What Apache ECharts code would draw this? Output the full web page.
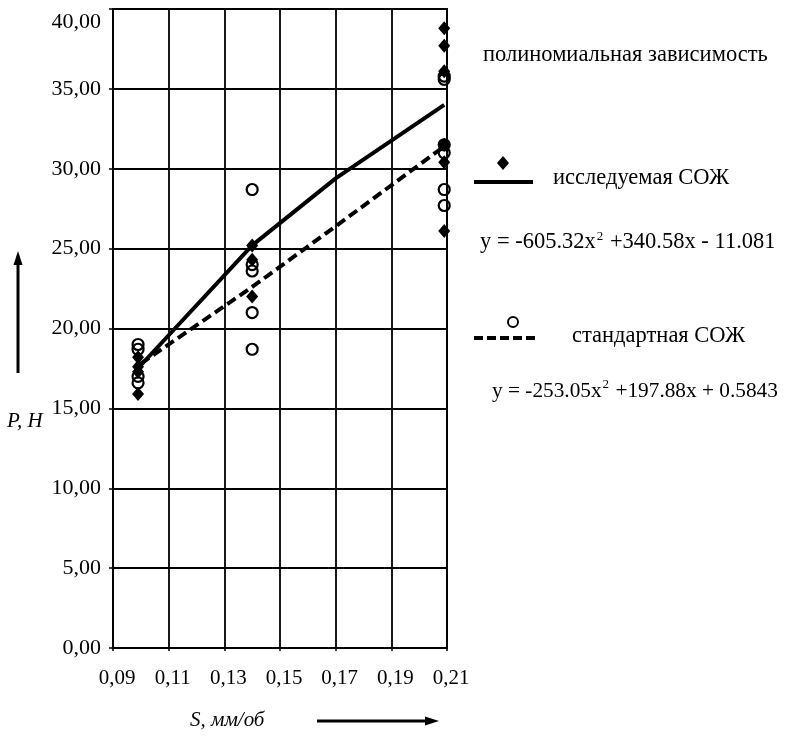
<!DOCTYPE html>
<html>
<head>
<meta charset="utf-8">
<script src="https://cdn.jsdelivr.net/npm/echarts@6/dist/echarts.min.js"></script>
<style>
  html, body { margin: 0; padding: 0; background: #fff; }
  #chart { width: 785px; height: 752px; }
</style>
</head>
<body>
<div id="chart"></div>
<script>
// Cutting force P (H) versus feed S (мм/об) for two coolants
const seriesNames = ['исследуемая СОЖ', 'стандартная СОЖ'];
const feedRates = [0.099, 0.14, 0.209];
const studiedForces = [
  [18.2, 17.6, 17.3, 15.9],
  [25.2, 24.3, 22.0],
  [38.8, 37.7, 36.1, 31.5, 30.4, 26.1]
];
const standardForces = [
  [19.0, 18.7, 17.0, 16.6],
  [28.7, 24.0, 23.6, 21.0, 18.7],
  [35.8, 35.6, 31.5, 31.0, 28.7, 27.7]
];
// polynomial trend curves
const studiedTrend = [[0.1, 17.7], [0.14, 25.2], [0.17, 29.4], [0.209, 34.0]];
const standardTrend = [[0.1, 17.8], [0.14, 22.6], [0.17, 26.4], [0.209, 31.4]];
const xRange = [0.09, 0.21, 0.02];
const yRange = [0, 40, 5];
const heading = 'полиномиальная зависимость';
const equations = [
  ['y = -605.32x', '2', ' +340.58x - 11.081'],
  ['y = -253.05x', '2', ' +197.88x + 0.5843']
];
const axisNames = ['S, мм/об', 'P, H'];

const SERIF = '"Liberation Serif", "DejaVu Serif", serif';
const comma = (v, d) => v.toFixed(d).replace('.', ',');

function toPoints(xs, groups) {
  const out = [];
  groups.forEach((g, i) => g.forEach(v => out.push([xs[i], v])));
  return out;
}

const chart = echarts.init(document.getElementById('chart'), null, { renderer: 'canvas' });

function eqText(parts) {
  return '{a|' + parts[0] + '}{s|' + parts[1] + '}{a|' + parts[2] + '}';
}
function eqRich(size) {
  return {
    a: { fontSize: size, fontFamily: SERIF, fill: '#000', verticalAlign: 'bottom' },
    s: { fontSize: 13, fontFamily: SERIF, fill: '#000', verticalAlign: 'bottom', padding: [0, 1, 11, 1] }
  };
}
const legendFont = '22.5px ' + SERIF;

chart.setOption({
  animation: false,
  backgroundColor: '#fff',
  grid: {
    left: 113, right: 338, top: 9, bottom: 104,
    show: true, borderColor: '#000', borderWidth: 2, backgroundColor: 'transparent'
  },
  xAxis: {
    type: 'value',
    min: xRange[0], max: xRange[1], interval: xRange[2],
    axisLine: { show: true, lineStyle: { color: '#000', width: 2 } },
    axisTick: { show: true, length: 3, lineStyle: { color: '#000', width: 1.5 } },
    splitLine: { show: true, lineStyle: { color: '#000', width: 1.8 } },
    axisLabel: {
      color: '#000', fontSize: 21, fontFamily: SERIF, margin: 20,
      padding: [0, 0, 0, 8],
      formatter: v => comma(v, 2)
    }
  },
  yAxis: {
    type: 'value',
    min: yRange[0], max: yRange[1], interval: yRange[2],
    axisLine: { show: true, lineStyle: { color: '#000', width: 2 } },
    axisTick: { show: true, length: 4, lineStyle: { color: '#000', width: 1.5 } },
    splitLine: { show: true, lineStyle: { color: '#000', width: 1.8 } },
    axisLabel: {
      color: '#000', fontSize: 22, fontFamily: SERIF, margin: 12,
      formatter: v => (v === yRange[1] ? '{t|' + comma(v, 2) + '}' : comma(v, 2)),
      rich: { t: { fontSize: 22, fontFamily: SERIF, color: '#000', padding: [26, 0, 0, 0] } }
    }
  },
  series: [
    {
      name: seriesNames[0] + ' тренд',
      type: 'line',
      data: studiedTrend,
      showSymbol: false,
      z: 3,
      lineStyle: { color: '#000', width: 4 }
    },
    {
      name: seriesNames[1] + ' тренд',
      type: 'line',
      data: standardTrend,
      showSymbol: false,
      z: 3,
      lineStyle: { color: '#000', width: 4, type: [10, 5] }
    },
    {
      name: seriesNames[0],
      type: 'scatter',
      data: toPoints(feedRates, studiedForces),
      symbol: 'diamond',
      symbolSize: [12, 14],
      z: 4,
      itemStyle: { color: '#000', opacity: 1 }
    },
    {
      name: seriesNames[1],
      type: 'scatter',
      data: toPoints(feedRates, standardForces),
      symbol: 'circle',
      symbolSize: 11,
      z: 4,
      itemStyle: { color: 'rgba(0,0,0,0)', borderColor: '#000', borderWidth: 2.2, opacity: 1 }
    }
  ],
  graphic: [
    // axis names with direction arrows
    { type: 'text', left: 7, top: 411, style: { text: axisNames[1], font: 'italic 21px ' + SERIF, fill: '#000' } },
    { type: 'line', shape: { x1: 18, y1: 373, x2: 18, y2: 262 }, style: { stroke: '#000', lineWidth: 3 } },
    { type: 'polygon', shape: { points: [[18, 251], [13.5, 265], [22.5, 265]] }, style: { fill: '#000' } },
    { type: 'text', left: 190, top: 710, style: { text: axisNames[0], font: 'italic 21px ' + SERIF, fill: '#000' } },
    { type: 'line', shape: { x1: 317, y1: 721, x2: 428, y2: 721 }, style: { stroke: '#000', lineWidth: 3 } },
    { type: 'polygon', shape: { points: [[439, 721], [425, 716.5], [425, 725.5]] }, style: { fill: '#000' } },

    // trend legend
    { type: 'text', left: 483, top: 44, style: { text: heading, font: legendFont, fill: '#000' } },

    { type: 'line', shape: { x1: 474, y1: 182, x2: 533, y2: 182 }, style: { stroke: '#000', lineWidth: 4 } },
    { type: 'polygon', shape: { points: [[503, 156], [509, 163], [503, 170], [497, 163]] }, style: { fill: '#000' } },
    { type: 'text', left: 553, top: 167, style: { text: seriesNames[0], font: legendFont, fill: '#000' } },
    { type: 'text', left: 480, top: 230, style: { text: eqText(equations[0]), rich: eqRich(22.5) } },

    { type: 'line', shape: { x1: 474, y1: 338, x2: 538, y2: 338 }, style: { stroke: '#000', lineWidth: 4, lineDash: [9, 4] } },
    { type: 'circle', shape: { cx: 513, cy: 322, r: 5 }, style: { fill: 'none', stroke: '#000', lineWidth: 2 } },
    { type: 'text', left: 572, top: 325, style: { text: seriesNames[1], font: legendFont, fill: '#000' } },
    { type: 'text', left: 492, top: 378, style: { text: eqText(equations[1]), rich: eqRich(21.3) } }
  ]
});
</script>
</body>
</html>
